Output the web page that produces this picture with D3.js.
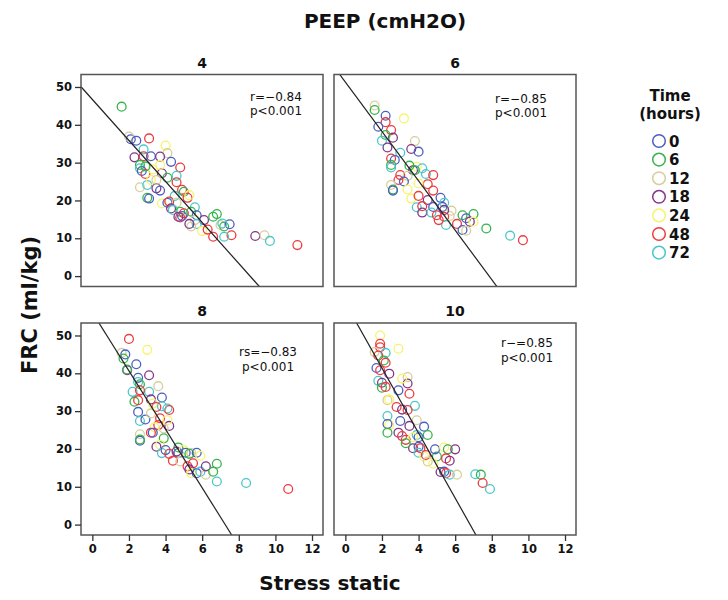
<!DOCTYPE html>
<html>
<head>
<meta charset="utf-8">
<script src="https://cdn.jsdelivr.net/npm/d3@7/dist/d3.min.js"></script>
<style>
body { margin: 0; background: #fff; }
text { font-family: "DejaVu Sans", sans-serif; fill: #111; }
</style>
</head>
<body>
<div id="chart"></div>
<script>
// ---- data ----
var times = [0, 6, 12, 18, 24, 48, 72];
var panelTitles = ["4", "6", "8", "10"];
var statLines = [["r=\u22120.84", "p<0.001"], ["r=\u22120.85", "p<0.001"], ["rs=\u22120.83", "p<0.001"], ["r\u2212=0.85", "p<0.001"]];
var fitSlope = [-5.42, -6.53, -7.73, -8.6];
var fitIntercept = [46.7, 51.3, 56.1, 58.6];
var xTicks = [0, 2, 4, 6, 8, 10, 12];
var yTicks = [0, 10, 20, 30, 40, 50];

// [stress, frc, hours]
var peep4 = [[1.6,44.8,6],[2.1,36.2,0],[2.0,36.9,12],[2.4,35.8,0],[3.1,36.4,48],[4.0,34.5,24],[4.1,32.5,12],[2.8,33.5,72],[2.3,31.4,18],[2.8,31.7,48],[3.2,31.7,0],[3.7,31.6,18],[4.3,30.2,0],[2.6,29.4,6],[2.6,28.5,72],[2.7,27.8,0],[2.9,27.0,48],[4.8,28.7,48],[3.3,28.2,24],[3.8,27.2,18],[4.1,26.0,6],[4.6,26.5,72],[4.6,24.8,48],[2.6,23.5,12],[3.0,24.1,72],[3.5,23.2,18],[3.7,22.6,0],[3.2,25.4,24],[4.9,22.8,48],[5.0,22.3,6],[3.0,20.7,6],[3.1,20.5,0],[5.2,20.7,48],[5.3,21.4,24],[4.5,21.2,72],[3.8,19.2,24],[4.1,19.4,0],[4.2,19.7,48],[4.6,19.4,12],[5.6,18.2,72],[4.3,17.9,18],[4.4,17.5,72],[4.8,17.0,6],[5.0,16.6,48],[4.8,15.5,48],[4.7,15.7,18],[4.9,15.9,0],[5.4,17.0,6],[5.7,16.1,0],[5.6,14.8,12],[6.1,14.8,18],[5.7,13.8,72],[5.4,13.1,12],[5.3,13.8,18],[6.0,11.9,24],[6.6,15.7,6],[6.8,16.4,6],[7.0,13.5,12],[7.2,13.1,6],[7.5,13.7,0],[7.1,13.9,72],[6.6,10.4,48],[7.6,10.8,48],[7.2,10.4,72],[6.3,12.3,48],[8.9,10.6,18],[9.4,10.8,12],[9.7,9.3,72],[11.2,8.2,48],[3.7,29.4,24],[3.5,25.4,12],[2.9,29.0,6]];
var peep6 = [[1.6,45.1,12],[1.6,43.9,6],[3.2,41.7,24],[2.2,42.4,0],[2.2,40.7,48],[1.8,39.5,0],[2.5,38.6,48],[2.6,36.6,18],[2.2,37.3,6],[2.0,35.8,72],[3.8,35.7,12],[3.6,33.6,18],[4.0,32.9,0],[2.3,34.0,18],[3.0,32.6,72],[2.5,31.1,48],[2.7,30.7,0],[3.9,28.9,24],[2.5,29.4,6],[2.5,28.7,72],[3.5,29.2,6],[3.7,28.0,18],[3.0,26.7,48],[4.4,27.0,72],[4.8,26.7,48],[3.4,26.5,12],[2.9,25.4,48],[3.2,25.0,0],[4.5,24.3,48],[2.5,24.1,12],[2.6,22.9,6],[2.6,22.6,0],[3.4,22.9,24],[4.8,22.6,48],[3.6,20.5,24],[4.0,21.2,48],[5.2,20.7,0],[4.5,20.1,18],[3.9,18.2,72],[4.2,18.5,48],[4.2,16.8,18],[4.8,18.3,0],[4.7,16.8,72],[5.3,18.3,0],[5.0,16.1,48],[5.8,17.3,12],[5.4,15.7,48],[5.5,13.5,72],[5.1,14.8,48],[5.7,15.9,12],[6.1,13.8,48],[6.4,16.1,6],[7.0,16.4,6],[6.8,14.4,18],[6.6,15.3,0],[7.0,14.4,24],[6.4,12.2,0],[6.6,12.0,12],[7.7,12.6,6],[9.0,10.7,72],[9.7,9.5,48],[4.2,28.5,72],[4.0,24.5,24],[3.8,28.0,6],[5.4,19.4,72],[5.4,17.5,18]];
var peep8 = [[2.0,49.1,48],[3.0,46.2,24],[1.6,45.4,12],[1.8,45.0,0],[1.7,43.9,6],[2.4,42.4,0],[1.9,40.8,18],[1.9,41.0,6],[3.1,39.5,18],[2.5,38.8,0],[2.5,37.7,72],[3.6,36.6,12],[2.6,37.1,6],[2.2,35.1,72],[3.1,35.1,72],[2.6,35.5,48],[3.8,33.6,0],[2.3,32.5,6],[2.5,32.9,48],[3.2,33.1,18],[3.3,32.0,24],[4.1,30.7,72],[4.2,30.3,48],[2.5,29.8,0],[3.8,31.3,72],[3.5,31.1,48],[2.6,27.4,72],[2.9,27.8,0],[3.7,28.1,48],[3.2,29.4,12],[3.6,26.3,48],[4.2,26.1,18],[3.4,25.7,24],[3.2,24.3,48],[3.3,24.3,0],[2.6,23.9,12],[2.6,22.2,0],[2.6,22.5,6],[3.9,22.8,6],[3.5,20.6,18],[3.7,21.1,24],[3.8,18.9,72],[4.0,19.7,0],[4.2,18.7,48],[4.7,20.4,6],[4.6,19.3,18],[4.7,18.9,0],[4.4,16.9,48],[4.8,16.7,12],[5.0,19.7,24],[5.1,19.0,0],[5.4,18.9,12],[5.3,18.7,6],[5.7,19.0,0],[5.9,18.2,24],[5.2,15.4,48],[5.5,16.2,48],[5.3,14.6,18],[5.4,13.6,24],[5.7,13.6,0],[5.9,14.0,72],[6.2,13.2,12],[6.2,15.4,18],[6.6,14.0,6],[6.8,16.1,6],[6.8,11.4,72],[8.4,11.0,72],[10.7,9.4,48],[4.1,27.6,24],[3.9,25.4,12]];
var peep10 = [[1.9,50.0,24],[1.9,47.8,48],[2.9,46.5,24],[1.9,46.9,48],[1.6,45.6,12],[2.2,45.4,72],[1.8,44.7,48],[2.1,43.4,6],[2.2,42.8,48],[1.7,41.4,0],[1.9,40.8,48],[2.4,39.9,18],[3.4,39.0,12],[3.4,37.3,18],[1.8,38.0,72],[2.0,37.5,18],[2.0,36.2,6],[2.2,36.4,48],[3.1,38.6,24],[2.9,35.5,0],[3.5,34.6,48],[2.3,32.9,12],[2.4,33.1,24],[3.8,31.4,72],[2.8,31.1,48],[3.4,30.3,48],[3.1,30.4,18],[3.9,27.6,12],[2.3,28.7,72],[3.0,27.4,0],[2.4,26.3,24],[3.5,26.1,18],[2.3,26.6,0],[4.3,25.9,0],[2.3,24.3,6],[2.9,24.3,18],[3.9,23.7,72],[4.5,23.7,6],[3.1,23.4,48],[4.0,23.1,0],[3.3,22.4,48],[3.7,23.1,24],[3.7,20.2,18],[3.3,21.5,6],[4.0,20.6,0],[4.1,20.2,48],[4.0,19.0,72],[4.3,18.0,24],[4.4,18.4,48],[4.5,16.7,12],[5.0,18.0,6],[4.9,19.9,0],[5.4,20.4,24],[5.6,19.9,6],[6.0,19.9,18],[5.5,17.5,48],[5.7,16.9,18],[4.8,16.1,24],[5.2,13.9,18],[5.4,14.0,0],[5.5,13.6,48],[5.7,13.2,72],[6.1,13.2,12],[7.1,13.3,72],[7.4,13.2,6],[7.5,11.0,48],[7.9,9.4,72]];

var panelData = [peep4, peep6, peep8, peep10];

// ---- layout ----
var W = 728, H = 600;
var colX = [81, 334], rowY = [74.5, 323];
var pw = 242, ph = 212;
var palette = ["#4a5fbf", "#34b44a", "#d6cf9c", "#84368a", "#f7f36a", "#ee3b3f", "#4cc6cc"];
var statPos = [[195, 26], [187, 28], [187, 33], [193, 24]]; // offset inside panel

var color = d3.scaleOrdinal().domain(times).range(palette);

var svg = d3.select("#chart").append("svg")
    .attr("width", W)
    .attr("height", H);

svg.append("rect").attr("width", W).attr("height", H).attr("fill", "#fff");

var x = d3.scaleLinear().domain([-0.62, 12.6]).range([0, pw]);
var y = d3.scaleLinear().domain([-2.75, 53.3]).range([ph, 0]);

svg.append("text")
    .attr("x", 385).attr("y", 28)
    .attr("text-anchor", "middle")
    .style("font-size", "20px").style("font-weight", "bold")
    .text("PEEP (cmH2O)");

panelData.forEach(function (pts, i) {
    var col = i % 2, row = Math.floor(i / 2);
    var g = svg.append("g")
        .attr("transform", "translate(" + colX[col] + "," + rowY[row] + ")");

    g.append("clipPath").attr("id", "clip" + i)
        .append("rect").attr("width", pw).attr("height", ph);

    // panel title
    g.append("text")
        .attr("x", pw / 2).attr("y", -7)
        .attr("text-anchor", "middle")
        .style("font-size", "14px").style("font-weight", "bold")
        .text(panelTitles[i]);

    // points
    g.append("g").attr("clip-path", "url(#clip" + i + ")")
        .selectAll("circle")
        .data(pts)
        .enter()
        .append("circle")
        .attr("cx", function (d) { return x(d[0]); })
        .attr("cy", function (d) { return y(d[1]); })
        .attr("r", 4.4)
        .attr("fill", "none")
        .attr("stroke", function (d) { return color(d[2]); })
        .attr("stroke-width", 1.3);

    // fit line
    var x0 = x.domain()[0], x1 = x.domain()[1];
    g.append("line")
        .attr("clip-path", "url(#clip" + i + ")")
        .attr("x1", x(x0)).attr("y1", y(fitIntercept[i] + fitSlope[i] * x0))
        .attr("x2", x(x1)).attr("y2", y(fitIntercept[i] + fitSlope[i] * x1))
        .attr("stroke", "#222")
        .attr("stroke-width", 1.2);

    // stats
    statLines[i].forEach(function (s, k) {
        g.append("text")
            .attr("x", statPos[i][0]).attr("y", statPos[i][1] + k * 14.5)
            .attr("text-anchor", "middle")
            .style("font-size", "12px")
            .text(s);
    });

    // frame
    g.append("rect")
        .attr("width", pw).attr("height", ph)
        .attr("fill", "none")
        .attr("stroke", "#555")
        .attr("stroke-width", 1.5);

    if (col == 0) {
        var ay = g.append("g").call(d3.axisLeft(y).tickValues(yTicks).tickSize(6).tickPadding(3));
        ay.select(".domain").remove();
        ay.selectAll("line").attr("stroke", "#333").attr("stroke-width", 1.3);
        ay.selectAll("text").style("font-size", "11.5px").style("font-weight", "bold")
            .style("font-family", "DejaVu Sans, sans-serif").attr("fill", "#111");
    }
    if (row == 1) {
        var ax = g.append("g").attr("transform", "translate(0," + ph + ")")
            .call(d3.axisBottom(x).tickValues(xTicks).tickSize(6).tickPadding(4));
        ax.select(".domain").remove();
        ax.selectAll("line").attr("stroke", "#333").attr("stroke-width", 1.3);
        ax.selectAll("text").style("font-size", "11.5px").style("font-weight", "bold")
            .style("font-family", "DejaVu Sans, sans-serif").attr("fill", "#111");
    }
});

// axis titles
svg.append("text")
    .attr("transform", "translate(37,305) rotate(-90)")
    .attr("text-anchor", "middle")
    .style("font-size", "21px").style("font-weight", "bold")
    .text("FRC (ml/kg)");

svg.append("text")
    .attr("x", 330).attr("y", 590)
    .attr("text-anchor", "middle")
    .style("font-size", "20px").style("font-weight", "bold")
    .text("Stress static");

// legend
var leg = svg.append("g").attr("transform", "translate(670,0)");
leg.append("text").attr("y", 101).attr("text-anchor", "middle")
    .style("font-size", "15px").style("font-weight", "bold").text("Time");
leg.append("text").attr("y", 119).attr("text-anchor", "middle")
    .style("font-size", "15px").style("font-weight", "bold").text("(hours)");

var item = leg.selectAll("g.item")
    .data(times)
    .enter()
    .append("g")
    .attr("class", "item")
    .attr("transform", function (d, i) { return "translate(0," + (141 + i * 18.6) + ")"; });
item.append("circle")
    .attr("cx", -11).attr("r", 6.3)
    .attr("fill", "none")
    .attr("stroke", function (d) { return color(d); })
    .attr("stroke-width", 1.5);
item.append("text")
    .attr("x", -1).attr("y", 5.5)
    .style("font-size", "15px").style("font-weight", "bold")
    .text(function (d) { return d; });
</script>
</body>
</html>
